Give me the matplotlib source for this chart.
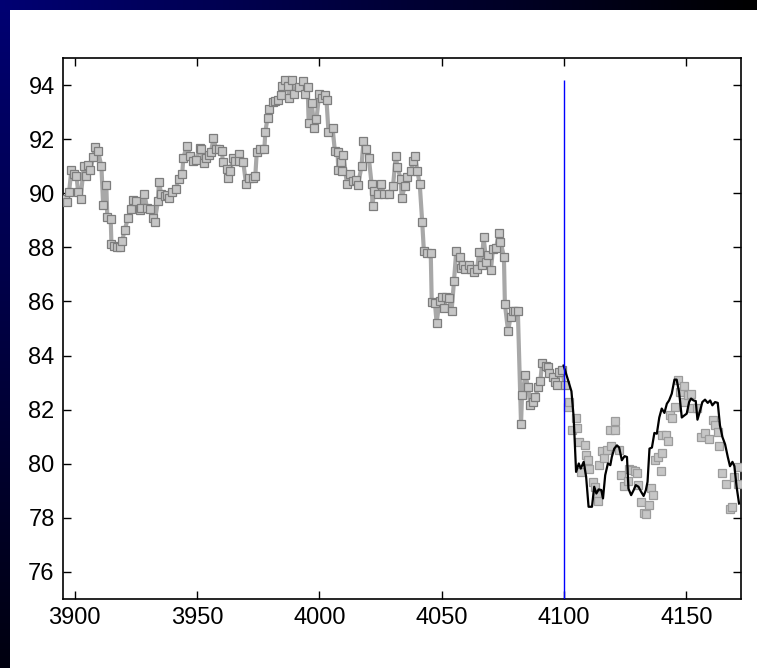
import matplotlib
matplotlib.use("Agg")
import matplotlib.pyplot as plt
import numpy as np

# observed history (line + markers)
hist_x = [3895.9, 3896.9, 3897.7, 3898.6, 3899.6, 3900.7, 3901.4, 3902.4, 3903.7, 3904.5,
          3905.4, 3906.4, 3907.5, 3908.2, 3909.5, 3910.9, 3911.6, 3912.9, 3913.3, 3914.7,
          3915.0, 3916.0, 3917.3, 3918.6, 3919.4, 3920.4, 3921.8, 3922.8, 3923.8, 3925.1,
          3926.8, 3927.2, 3928.5, 3929.5, 3930.9, 3931.9, 3932.6, 3934.0, 3934.4, 3935.3,
          3936.7, 3937.7, 3938.7, 3939.8, 3941.2, 3942.5, 3943.9, 3944.4, 3945.8, 3947.2,
          3948.5, 3949.6, 3951.0, 3951.7, 3952.7, 3953.7, 3954.8, 3955.7, 3956.7, 3957.8,
          3959.1, 3960.2, 3960.5, 3962.1, 3962.5, 3963.6, 3964.6, 3965.7, 3967.0, 3967.3,
          3968.9, 3970.0, 3971.4, 3972.7, 3973.8, 3974.4, 3975.7, 3977.5, 3977.9, 3978.8,
          3979.5, 3980.9, 3982.0, 3982.9, 3984.3, 3984.7, 3986.1, 3987.0, 3987.7, 3988.6,
          3989.7, 3991.8, 3993.1, 3994.1, 3995.2, 3995.6, 3996.9, 3997.9, 3998.8, 3999.9,
          4000.9, 4002.2, 4002.9, 4003.7, 4005.4, 4006.3, 4007.4, 4007.7, 4008.8, 4009.4,
          4009.8, 4011.2, 4012.6, 4013.9, 4014.9, 4015.8, 4017.2, 4018.0, 4019.1, 4020.2,
          4021.3, 4021.7, 4022.3, 4024.0, 4025.1, 4026.4, 4028.5, 4030.1, 4031.2, 4031.9,
          4033.2, 4033.6, 4035.0, 4035.9, 4037.3, 4038.4, 4039.1, 4040.0, 4041.0, 4042.0,
          4042.7, 4044.1, 4045.5, 4045.9, 4047.2, 4047.9, 4049.1, 4049.9, 4050.9, 4051.8,
          4052.9, 4054.0, 4055.0, 4055.9, 4057.3, 4057.7, 4058.8, 4059.7, 4061.1, 4062.0,
          4063.1, 4064.5, 4065.2, 4066.3, 4067.1, 4068.2, 4069.0, 4070.1, 4070.9, 4072.2,
          4073.3, 4074.0, 4075.4, 4075.8, 4077.1, 4078.1, 4079.0, 4080.1, 4081.1, 4082.4,
          4082.8, 4084.2, 4085.3, 4086.2, 4087.3, 4088.3, 4089.4, 4090.3, 4091.0, 4092.4,
          4093.5, 4094.0, 4095.3, 4096.2, 4097.1, 4098.1, 4099.2, 4100.2]
hist_y = [89.78, 89.66, 90.05, 90.85, 90.73, 90.64, 90.05, 89.80, 91.01, 90.64,
          91.04, 90.85, 91.34, 91.71, 91.57, 90.99, 89.57, 90.30, 89.13, 89.04,
          88.12, 88.06, 88.00, 88.00, 88.25, 88.64, 89.10, 89.41, 89.75, 89.70,
          89.38, 89.45, 89.99, 89.45, 89.41, 89.08, 88.92, 89.70, 90.43, 89.99,
          89.90, 89.94, 89.82, 90.03, 90.15, 90.52, 90.70, 91.32, 91.75, 91.38,
          91.20, 91.22, 91.66, 91.63, 91.10, 91.32, 91.42, 91.54, 92.03, 91.63,
          91.63, 91.56, 91.14, 90.89, 90.58, 90.83, 91.32, 91.20, 91.44, 91.20,
          91.14, 90.34, 90.56, 90.58, 90.64, 91.54, 91.63, 91.63, 92.28, 92.79,
          93.10, 93.38, 93.41, 93.43, 93.63, 93.96, 94.17, 93.96, 93.53, 94.17,
          93.68, 93.93, 94.15, 93.68, 93.93, 92.61, 93.32, 92.40, 92.73, 93.68,
          93.53, 93.63, 93.43, 92.28, 92.40, 91.57, 91.54, 90.87, 91.17, 90.83,
          91.42, 90.36, 90.70, 90.46, 90.48, 90.31, 91.00, 91.93, 91.63, 91.30,
          90.36, 89.54, 90.07, 89.97, 90.36, 89.97, 89.99, 90.27, 91.38, 90.97,
          90.52, 89.84, 90.27, 90.61, 90.83, 91.20, 91.38, 90.83, 90.34, 88.95,
          87.85, 87.79, 87.78, 85.97, 85.95, 85.21, 86.03, 86.16, 85.76, 86.18,
          86.13, 85.63, 86.75, 87.85, 87.66, 87.23, 87.33, 87.20, 87.33, 87.20,
          87.08, 87.20, 87.84, 87.33, 88.37, 87.45, 87.73, 87.16, 87.94, 87.97,
          88.53, 88.21, 87.66, 85.91, 84.90, 85.42, 85.64, 85.66, 85.64, 81.48,
          82.53, 83.27, 82.83, 82.16, 82.28, 82.47, 82.83, 83.06, 83.72, 83.60,
          83.57, 83.35, 83.20, 83.02, 82.90, 83.39, 83.45, 82.90]

# observed values after the split (markers only)
test_x = [4101.6, 4101.9, 4103.2, 4104.9, 4105.3, 4106.2, 4107.0, 4108.4, 4108.9, 4109.8,
          4110.3, 4111.7, 4112.8, 4113.4, 4113.8, 4114.1, 4115.5, 4116.2, 4117.5, 4118.9,
          4119.3, 4120.6, 4120.9, 4122.4, 4123.1, 4124.3, 4126.2, 4126.6, 4127.7, 4128.8,
          4129.7, 4130.2, 4131.4, 4132.5, 4133.3, 4134.5, 4135.6, 4136.5, 4137.2, 4138.3,
          4139.7, 4140.2, 4139.9, 4141.6, 4142.4, 4143.1, 4144.0, 4145.4, 4146.7, 4147.4,
          4148.8, 4149.2, 4150.8, 4151.9, 4152.4, 4154.2, 4156.0, 4157.6, 4159.2, 4160.7,
          4161.7, 4162.8, 4163.3, 4164.7, 4166.0, 4167.8, 4168.5, 4169.6, 4170.9, 4171.2]
test_y = [82.10, 82.28, 81.24, 81.69, 81.33, 80.81, 79.70, 80.68, 80.31, 80.13,
          79.82, 79.33, 79.15, 78.85, 78.63, 79.95, 80.48, 80.23, 80.52, 81.24,
          80.65, 81.58, 81.24, 80.52, 79.58, 79.17, 79.37, 79.82, 79.78, 79.74,
          79.64, 79.21, 78.59, 78.19, 78.14, 78.47, 79.12, 78.84, 80.13, 80.25,
          79.72, 80.40, 81.05, 81.05, 80.83, 81.79, 81.70, 82.10, 83.11, 82.65,
          82.28, 82.86, 82.53, 82.57, 82.07, 82.07, 80.99, 81.14, 80.93, 81.63,
          81.42, 81.18, 80.65, 79.64, 79.24, 78.31, 78.41, 79.52, 79.24, 79.88]

# forecast
pred_x = [4099.8, 4103.0, 4103.9, 4104.9, 4106.0, 4106.8, 4108.0, 4109.0, 4110.0, 4111.4,
          4112.3, 4113.2, 4114.1, 4115.2, 4115.9, 4116.8, 4117.9, 4118.9, 4119.5, 4120.5,
          4121.6, 4122.5, 4123.6, 4124.7, 4125.7, 4126.3, 4127.4, 4128.4, 4129.3, 4130.4,
          4131.5, 4132.5, 4133.4, 4134.1, 4134.9, 4135.9, 4136.9, 4137.9, 4138.9, 4139.9,
          4141.0, 4142.0, 4142.9, 4144.0, 4145.1, 4146.0, 4147.0, 4148.1, 4149.2, 4150.1,
          4151.1, 4151.9, 4152.9, 4153.8, 4154.5, 4155.6, 4156.5, 4157.6, 4158.7, 4159.7,
          4160.6, 4161.7, 4162.8, 4163.7, 4164.7, 4165.8, 4166.9, 4167.8, 4168.8, 4169.6,
          4170.5, 4171.5]
pred_y = [83.63, 82.68, 81.73, 79.70, 80.01, 79.82, 80.07, 79.52, 78.41, 78.41,
          79.15, 78.90, 79.05, 79.03, 78.72, 79.58, 80.01, 79.95, 80.25, 80.56,
          80.68, 80.60, 80.13, 80.28, 80.25, 79.08, 78.84, 79.02, 79.21, 79.15,
          78.96, 78.81, 79.02, 79.33, 80.56, 80.60, 81.14, 81.11, 81.71, 82.04,
          81.88, 82.22, 82.34, 82.59, 83.11, 83.11, 82.65, 81.71, 81.79, 81.85,
          82.28, 82.41, 82.34, 82.32, 81.63, 81.97, 82.28, 82.37, 82.25, 82.34,
          82.16, 82.28, 82.25, 81.42, 80.99, 80.72, 80.25, 79.91, 80.07, 79.91,
          79.15, 78.53]

split_x = 4100
xticks = [3900, 3950, 4000, 4050, 4100, 4150]
yticks = [76, 78, 80, 82, 84, 86, 88, 90, 92, 94]

plt.rcParams['font.family'] = ['Liberation Sans', 'DejaVu Sans']

W, H = 757, 668
fig = plt.figure(figsize=(W / 100, H / 100), dpi=100, facecolor='white')

# dark slide border (top and left)
bg = np.ones((H, W, 3))
band = 10
top_fade = np.linspace(1.0, 0.0, W)
bg[:band, :, 0] = 0.0
bg[:band, :, 1] = 0.0
bg[:band, :, 2] = (0.45 * top_fade)[None, :]
left_fade = np.linspace(0.45, 0.06, H)
bg[band:, :band, 0] = 0.0
bg[band:, :band, 1] = 0.0
bg[band:, :band, 2] = left_fade[band:, None]
bax = fig.add_axes([0, 0, 1, 1], zorder=-1)
bax.imshow(bg, aspect='auto', interpolation='bilinear')
bax.axis('off')

ax = fig.add_axes([63 / W, 1 - 599 / H, (741 - 63) / W, (599 - 58) / H])
ax.plot(hist_x, hist_y, color='#a8a8a8', lw=3.0, zorder=2)
ax.plot(hist_x, hist_y, ls='none', marker='s', ms=5.3, mfc='#c6c6c6', mec='#7d7d7d',
        mew=0.9, zorder=3)
ax.plot(test_x, test_y, ls='none', marker='s', ms=5.3, mfc='#c6c6c6', mec='#9c9c9c',
        mew=0.9, zorder=3)
ax.plot(pred_x, pred_y, color='black', lw=1.6, zorder=4)
ax.vlines(split_x, 75, 94.2, color='blue', lw=1.0, zorder=5)

ax.set_xlim(3895.2, 4172.3)
ax.set_ylim(75, 95)
ax.set_xticks(xticks)
ax.set_yticks(yticks)
ax.tick_params(direction='in', top=True, right=True, length=6, width=1,
               labelsize=17, pad=6)
for s in ax.spines.values():
    s.set_linewidth(1.2)

fig.savefig('out.png', dpi=100)
